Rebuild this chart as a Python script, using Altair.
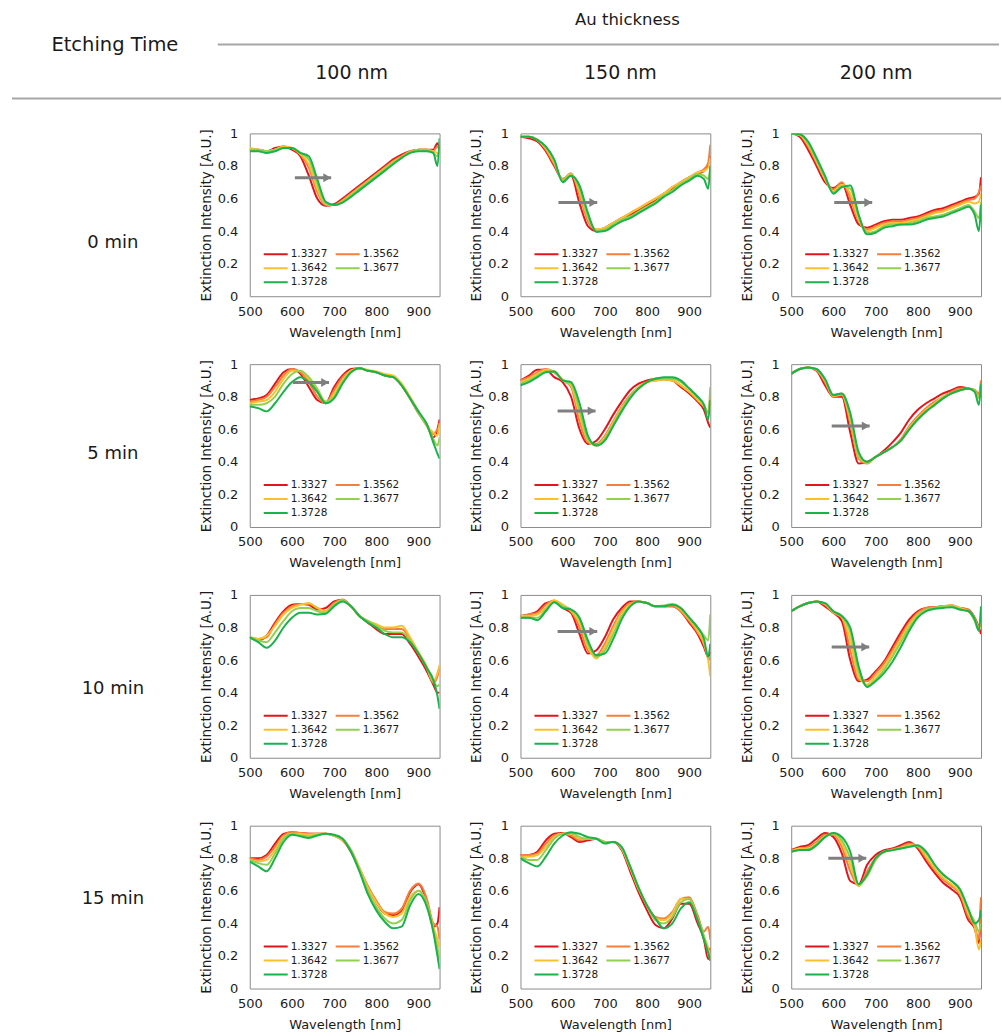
import altair as alt
import pandas as pd

FONT = "DejaVu Sans"

WAVELENGTH = [500, 520, 540, 560, 580, 600, 620, 640, 660, 680, 700, 720, 740,
              760, 780, 800, 820, 840, 860, 880, 900, 920, 935, 945, 950]
RI = ["1.3327", "1.3562", "1.3642", "1.3677", "1.3728"]
COLORS = ["#e3151b", "#f57f3a", "#fbc02d", "#92d050", "#19b24b"]
ETCHING = ["0 min", "5 min", "10 min", "15 min"]
THICKNESS = ["100 nm", "150 nm", "200 nm"]

# ---- 0 min ----
E0_T100 = [
    [.90, .90, .89, .91, .92, .90, .86, .74, .60, .555, .565, .60, .64, .68, .72, .76, .80, .84, .87, .89, .90, .90, .90, .94, .90],
    [.90, .90, .89, .90, .92, .91, .87, .79, .64, .56, .56, .59, .63, .67, .71, .75, .79, .83, .86, .89, .90, .90, .89, .92, .89],
    [.91, .90, .89, .90, .92, .91, .875, .81, .66, .565, .56, .585, .625, .665, .705, .745, .785, .825, .855, .885, .90, .90, .89, .88, .86],
    [.90, .90, .89, .90, .91, .91, .88, .84, .69, .57, .56, .58, .62, .66, .70, .74, .78, .82, .85, .88, .90, .90, .88, .86, .90],
    [.89, .89, .88, .89, .91, .91, .88, .86, .72, .58, .56, .575, .61, .65, .69, .73, .77, .81, .85, .88, .89, .89, .88, .80, .97],
]
E0_T150 = [
    [.98, .97, .95, .89, .80, .72, .74, .57, .43, .40, .42, .45, .48, .50, .53, .56, .59, .63, .66, .70, .73, .75, .77, .80, .86],
    [.98, .98, .96, .90, .81, .72, .755, .62, .46, .41, .42, .45, .48, .51, .54, .57, .60, .63, .67, .70, .73, .76, .78, .82, .93],
    [.98, .98, .96, .91, .82, .715, .75, .64, .48, .41, .42, .45, .48, .51, .54, .57, .60, .63, .67, .70, .73, .76, .77, .79, .85],
    [.98, .98, .96, .915, .83, .71, .745, .66, .49, .40, .41, .44, .47, .49, .52, .55, .58, .62, .65, .69, .72, .75, .74, .72, .78],
    [.98, .98, .96, .92, .84, .70, .74, .68, .51, .395, .40, .43, .46, .48, .51, .54, .57, .61, .64, .68, .71, .74, .72, .66, .80],
]
E0_T200 = [
    [1.0, .98, .90, .80, .70, .665, .695, .56, .44, .42, .44, .46, .47, .47, .48, .49, .51, .53, .54, .56, .58, .60, .61, .63, .73],
    [1.0, .99, .92, .82, .72, .655, .70, .60, .46, .41, .43, .45, .46, .46, .47, .48, .50, .52, .53, .55, .57, .59, .60, .64, .68],
    [1.0, .99, .93, .83, .72, .645, .685, .63, .47, .40, .42, .44, .45, .45, .46, .47, .49, .51, .52, .54, .56, .58, .57, .58, .63],
    [1.0, .995, .94, .84, .73, .635, .675, .66, .49, .39, .40, .43, .44, .44, .45, .46, .48, .49, .50, .52, .54, .56, .52, .48, .58],
    [1.0, .995, .95, .85, .74, .63, .67, .68, .50, .38, .39, .42, .43, .44, .44, .45, .47, .48, .49, .51, .53, .55, .50, .40, .56],
]
# ---- 5 min ----
E5_T100 = [
    [.78, .79, .81, .88, .95, .97, .94, .86, .78, .76, .86, .93, .97, .975, .96, .95, .93, .92, .87, .79, .70, .63, .55, .60, .66],
    [.77, .78, .80, .86, .93, .97, .95, .89, .80, .76, .84, .92, .96, .975, .96, .95, .93, .92, .87, .79, .70, .62, .57, .60, .62],
    [.76, .77, .78, .83, .91, .96, .96, .91, .83, .76, .82, .90, .96, .975, .965, .955, .94, .93, .88, .80, .71, .62, .58, .56, .64],
    [.75, .75, .76, .80, .88, .94, .96, .92, .85, .77, .80, .89, .95, .975, .96, .95, .93, .92, .87, .79, .70, .62, .54, .50, .55],
    [.74, .73, .71, .76, .83, .89, .92, .89, .83, .76, .79, .88, .95, .975, .96, .95, .93, .92, .87, .79, .71, .63, .52, .45, .42],
]
E5_T150 = [
    [.90, .93, .965, .965, .92, .89, .80, .60, .51, .53, .60, .69, .77, .84, .88, .90, .91, .91, .90, .86, .82, .77, .72, .64, .61],
    [.90, .92, .95, .97, .95, .905, .86, .65, .52, .51, .56, .65, .74, .81, .86, .89, .90, .905, .90, .87, .83, .78, .74, .70, .80],
    [.89, .91, .94, .965, .955, .905, .87, .69, .53, .50, .55, .64, .73, .80, .86, .89, .90, .905, .90, .87, .83, .78, .74, .70, .75],
    [.88, .90, .93, .955, .955, .90, .88, .72, .54, .50, .54, .63, .72, .80, .85, .89, .91, .91, .91, .89, .85, .80, .75, .70, .86],
    [.87, .89, .92, .95, .955, .90, .89, .76, .56, .50, .53, .62, .71, .79, .85, .89, .91, .92, .92, .90, .85, .80, .75, .66, .78],
]
E5_T200 = [
    [.94, .97, .98, .96, .87, .80, .80, .58, .39, .40, .43, .47, .52, .58, .66, .72, .76, .79, .82, .84, .86, .85, .84, .80, .86],
    [.94, .97, .98, .965, .89, .80, .81, .64, .42, .39, .43, .46, .49, .54, .62, .68, .73, .77, .80, .83, .85, .85, .84, .82, .90],
    [.94, .97, .98, .965, .90, .805, .815, .66, .43, .395, .43, .46, .49, .53, .61, .67, .72, .76, .80, .82, .84, .85, .83, .80, .84],
    [.94, .97, .98, .97, .905, .81, .82, .68, .44, .40, .43, .46, .49, .53, .60, .66, .71, .75, .79, .82, .84, .85, .84, .79, .87],
    [.94, .97, .98, .97, .91, .81, .82, .70, .46, .40, .43, .46, .49, .53, .60, .66, .71, .75, .79, .82, .84, .85, .83, .75, .88],
]
# ---- 10 min ----
E10_T100 = [
    [.74, .72, .75, .83, .90, .94, .945, .94, .91, .92, .96, .97, .93, .87, .83, .79, .76, .76, .76, .70, .62, .53, .45, .40, .40],
    [.74, .73, .74, .82, .89, .93, .945, .945, .92, .90, .95, .97, .93, .87, .84, .81, .79, .79, .79, .73, .64, .55, .46, .50, .55],
    [.74, .73, .75, .81, .88, .92, .94, .95, .92, .90, .94, .965, .93, .87, .84, .82, .80, .80, .81, .74, .65, .56, .47, .52, .57],
    [.74, .72, .71, .77, .84, .90, .92, .92, .90, .89, .94, .965, .93, .87, .84, .81, .78, .77, .77, .72, .64, .55, .47, .44, .45],
    [.74, .71, .675, .72, .80, .86, .89, .89, .88, .885, .93, .96, .93, .87, .83, .80, .76, .74, .74, .71, .64, .55, .48, .38, .30],
]
E10_T150 = [
    [.87, .88, .90, .95, .96, .92, .89, .76, .64, .66, .74, .85, .92, .96, .96, .95, .93, .93, .93, .90, .83, .76, .68, .62, .65],
    [.87, .88, .89, .94, .965, .93, .90, .80, .66, .63, .70, .81, .90, .95, .96, .95, .93, .93, .93, .90, .84, .77, .70, .62, .60],
    [.87, .87, .88, .92, .965, .94, .90, .83, .68, .61, .68, .79, .89, .94, .96, .95, .93, .93, .94, .91, .85, .78, .70, .60, .50],
    [.86, .86, .86, .91, .955, .93, .91, .85, .70, .62, .66, .76, .87, .93, .96, .95, .93, .935, .945, .92, .86, .80, .75, .72, .88],
    [.86, .86, .845, .90, .955, .92, .91, .86, .72, .63, .64, .73, .85, .93, .96, .95, .93, .93, .94, .92, .86, .80, .73, .62, .70],
]
E10_T200 = [
    [.90, .93, .95, .96, .93, .89, .84, .60, .47, .48, .53, .59, .68, .77, .85, .90, .92, .925, .93, .935, .92, .91, .86, .80, .76],
    [.90, .93, .95, .96, .94, .89, .86, .66, .48, .47, .52, .58, .66, .75, .83, .89, .92, .925, .93, .935, .92, .91, .86, .80, .82],
    [.90, .93, .95, .96, .945, .895, .865, .72, .50, .45, .50, .56, .64, .73, .82, .88, .91, .92, .93, .935, .92, .90, .85, .80, .84],
    [.90, .93, .95, .96, .95, .90, .87, .77, .53, .44, .48, .54, .62, .71, .80, .87, .91, .92, .93, .93, .91, .90, .84, .78, .90],
    [.90, .93, .95, .96, .95, .90, .87, .80, .56, .435, .47, .52, .59, .68, .78, .86, .90, .915, .92, .925, .91, .90, .85, .78, .93],
]
# ---- 15 min ----
E15_T100 = [
    [.80, .80, .82, .89, .95, .96, .955, .95, .95, .95, .94, .91, .84, .73, .62, .53, .46, .45, .48, .59, .64, .53, .38, .40, .50],
    [.80, .79, .81, .87, .94, .96, .955, .95, .95, .95, .94, .91, .85, .74, .63, .54, .47, .46, .49, .60, .645, .55, .40, .38, .30],
    [.79, .78, .79, .85, .93, .95, .95, .945, .95, .95, .94, .91, .85, .74, .62, .53, .46, .44, .46, .56, .60, .52, .38, .30, .25],
    [.79, .77, .76, .83, .92, .95, .94, .935, .945, .95, .94, .92, .85, .73, .60, .50, .43, .40, .42, .54, .60, .52, .36, .25, .18],
    [.78, .75, .72, .80, .90, .945, .935, .925, .94, .95, .945, .92, .84, .72, .58, .48, .41, .37, .38, .51, .58, .50, .35, .20, .12],
]
E15_T150 = [
    [.82, .82, .84, .91, .95, .955, .93, .90, .91, .92, .90, .90, .85, .72, .59, .48, .39, .37, .43, .52, .52, .40, .30, .18, .25],
    [.82, .82, .83, .89, .94, .95, .94, .91, .92, .92, .90, .90, .86, .74, .61, .51, .44, .43, .47, .55, .56, .45, .35, .38, .30],
    [.81, .81, .82, .87, .93, .95, .95, .92, .92, .92, .90, .90, .86, .74, .61, .51, .43, .42, .46, .55, .55, .43, .32, .25, .20],
    [.81, .79, .79, .85, .92, .95, .955, .93, .92, .92, .90, .90, .86, .75, .62, .51, .42, .40, .44, .53, .55, .43, .32, .22, .18],
    [.80, .77, .75, .81, .89, .94, .96, .95, .93, .92, .89, .90, .87, .75, .62, .51, .43, .37, .40, .49, .53, .42, .30, .22, .17],
]
E15_T200 = [
    [.85, .87, .88, .92, .955, .93, .83, .66, .64, .76, .82, .85, .86, .88, .90, .86, .78, .71, .65, .61, .56, .42, .37, .28, .55],
    [.85, .86, .87, .90, .945, .945, .87, .72, .63, .72, .80, .84, .855, .87, .89, .87, .80, .73, .67, .63, .58, .44, .38, .30, .56],
    [.84, .86, .86, .89, .935, .95, .89, .76, .63, .70, .79, .84, .85, .865, .88, .875, .81, .74, .68, .64, .59, .46, .38, .24, .30],
    [.84, .85, .855, .885, .93, .955, .91, .80, .64, .69, .79, .84, .85, .86, .875, .875, .83, .76, .70, .66, .61, .48, .41, .35, .40],
    [.84, .85, .85, .88, .93, .955, .93, .84, .64, .70, .80, .84, .85, .86, .87, .88, .84, .76, .70, .66, .61, .49, .40, .42, .48],
]

SPECTRA = {
    ("0 min", "100 nm"): E0_T100, ("0 min", "150 nm"): E0_T150, ("0 min", "200 nm"): E0_T200,
    ("5 min", "100 nm"): E5_T100, ("5 min", "150 nm"): E5_T150, ("5 min", "200 nm"): E5_T200,
    ("10 min", "100 nm"): E10_T100, ("10 min", "150 nm"): E10_T150, ("10 min", "200 nm"): E10_T200,
    ("15 min", "100 nm"): E15_T100, ("15 min", "150 nm"): E15_T150, ("15 min", "200 nm"): E15_T200,
}

# shift arrows: start wavelength, tip wavelength, intensity level
ARROW_START = {("0 min", "100 nm"): 607, ("0 min", "150 nm"): 590, ("0 min", "200 nm"): 602,
               ("5 min", "100 nm"): 602, ("5 min", "150 nm"): 588, ("5 min", "200 nm"): 596,
               ("10 min", "150 nm"): 588, ("10 min", "200 nm"): 596, ("15 min", "200 nm"): 588}
ARROW_TIP = {("0 min", "100 nm"): 693, ("0 min", "150 nm"): 682, ("0 min", "200 nm"): 692,
             ("5 min", "100 nm"): 688, ("5 min", "150 nm"): 678, ("5 min", "200 nm"): 686,
             ("10 min", "150 nm"): 682, ("10 min", "200 nm"): 685, ("15 min", "200 nm"): 678}
ARROW_LEVEL = {("0 min", "100 nm"): 0.727, ("0 min", "150 nm"): 0.575, ("0 min", "200 nm"): 0.576,
               ("5 min", "100 nm"): 0.887, ("5 min", "150 nm"): 0.713, ("5 min", "200 nm"): 0.62,
               ("10 min", "150 nm"): 0.776, ("10 min", "200 nm"): 0.68, ("15 min", "200 nm"): 0.80}

PW, PH = 190, 163
LABEL_W = 170
ROW_LABEL_Y = {"0 min": 110, "5 min": 90, "10 min": 94, "15 min": 73}
ARROW_COLOR = "#7f7f7f"
TEXT_COLOR = "#1a1a1a"

X_SCALE = alt.Scale(domain=[500, 950], nice=False, zero=False)
Y_SCALE = alt.Scale(domain=[0, 1], nice=False)
X_AXIS = alt.Axis(values=[500, 600, 700, 800, 900], title="Wavelength [nm]", labelFlush=False)
Y_AXIS = alt.Axis(values=[0, 0.2, 0.4, 0.6, 0.8, 1], format="~g", labelFlush=False,
                  title="Extinction Intensity [A.U.]")


def panel(key):
    recs = []
    for ri, vals in zip(RI, SPECTRA[key]):
        for w, v in zip(WAVELENGTH, vals):
            recs.append({"wl": w, "val": v, "ri": ri})
    df = pd.DataFrame(recs)
    lines = alt.Chart(df).mark_line(clip=True, strokeWidth=2, interpolate="monotone").encode(
        x=alt.X("wl:Q", scale=X_SCALE, axis=X_AXIS),
        y=alt.Y("val:Q", scale=Y_SCALE, axis=Y_AXIS),
        color=alt.Color("ri:N", scale=alt.Scale(domain=RI, range=COLORS),
                        legend=alt.Legend(orient="none", legendX=13, legendY=114, columns=2,
                                          direction="horizontal",
                                          title=None, symbolType="stroke", symbolSize=576,
                                          symbolStrokeWidth=2, clipHeight=14,
                                          labelFontSize=10.5, labelFont=FONT, labelOffset=2,
                                          labelColor=TEXT_COLOR, columnPadding=7,
                                          rowPadding=0, padding=0)),
    )
    layers = [lines]
    if key in ARROW_START:
        adf = pd.DataFrame({"x0": [ARROW_START[key]], "x1": [ARROW_TIP[key]],
                            "y": [ARROW_LEVEL[key]]})
        rule = alt.Chart(adf).mark_rule(color=ARROW_COLOR, strokeWidth=3).encode(
            x=alt.X("x0:Q", scale=X_SCALE, axis=X_AXIS),
            x2="x1:Q",
            y=alt.Y("y:Q", scale=Y_SCALE, axis=Y_AXIS))
        head = alt.Chart(adf).mark_point(shape="triangle-right", filled=True, color=ARROW_COLOR,
                                         opacity=1, size=80, xOffset=-4).encode(
            x=alt.X("x1:Q", scale=X_SCALE, axis=X_AXIS),
            y=alt.Y("y:Q", scale=Y_SCALE, axis=Y_AXIS))
        layers += [rule, head]
    return alt.layer(*layers).properties(width=PW, height=PH)


def row_label(name):
    return alt.Chart(pd.DataFrame({"label": [name]})).mark_text(
        fontSize=18, font=FONT, color=TEXT_COLOR).encode(
        x=alt.value(113), y=alt.value(ROW_LABEL_Y[name]), text="label:N"
    ).properties(width=LABEL_W, height=PH, view=alt.ViewBackground(strokeWidth=0))


HEAD_H = 109
hdr_data = pd.DataFrame({"k": [0]})
hdr_base = alt.Chart(hdr_data)
header_layers = [
    hdr_base.mark_text(fontSize=19.5, font=FONT, color=TEXT_COLOR).encode(
        x=alt.value(115), y=alt.value(45), text=alt.value("Etching Time")),
    hdr_base.mark_text(fontSize=16.5, font=FONT, color=TEXT_COLOR).encode(
        x=alt.value(628), y=alt.value(20), text=alt.value("Au thickness")),
    hdr_base.mark_rule(color="#a6a6a6", strokeWidth=2).encode(
        x=alt.value(218), x2=alt.value(1000), y=alt.value(44)),
    hdr_base.mark_rule(color="#a6a6a6", strokeWidth=2).encode(
        x=alt.value(12), x2=alt.value(1002), y=alt.value(98)),
]
for label, xpos in zip(THICKNESS, [352, 621, 877]):
    header_layers.append(hdr_base.mark_text(fontSize=19, font=FONT, color=TEXT_COLOR).encode(
        x=alt.value(xpos), y=alt.value(73), text=alt.value(label)))
header = alt.layer(*header_layers).properties(
    width=1002, height=HEAD_H, view=alt.ViewBackground(strokeWidth=0))

rows = []
for e in ETCHING:
    row = alt.hconcat(row_label(e), *[panel((e, t)) for t in THICKNESS], spacing=28
                      ).resolve_scale(color="independent", x="independent", y="independent")
    rows.append(row)

chart = alt.vconcat(header, *rows, spacing=17).resolve_scale(
    color="independent", x="independent", y="independent"
).properties(padding=0).configure(font=FONT).configure_view(
    stroke="#8c8c8c", strokeWidth=1
).configure_axis(
    labelFont=FONT, titleFont=FONT, labelFontSize=13, titleFontSize=13,
    titleFontWeight="normal", ticks=False, tickSize=0, domain=False, grid=False,
    labelColor=TEXT_COLOR, titleColor=TEXT_COLOR
).configure_axisX(labelPadding=9, titlePadding=8).configure_axisY(
    labelPadding=12, titlePadding=4, titleFontSize=13.5)

chart.save("out.html", embed_options={"renderer": "svg", "actions": False})
